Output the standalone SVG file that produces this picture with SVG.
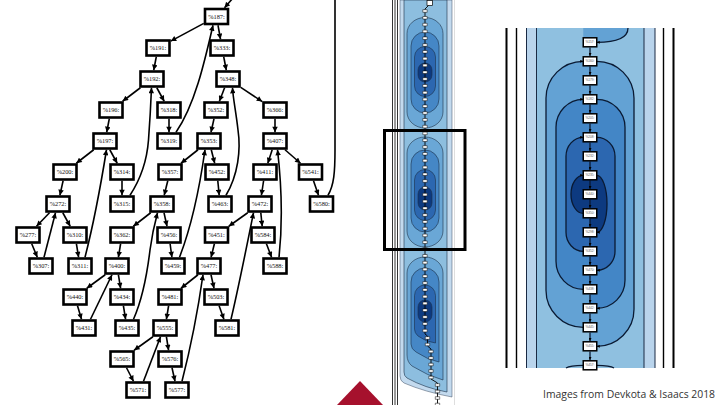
<svg xmlns="http://www.w3.org/2000/svg" width="720" height="405" viewBox="0 0 720 405">
<defs>
<style>
.n rect{fill:#fff;stroke:#000;stroke-width:2.6}
.n text{font-family:"Liberation Serif",serif;font-size:6.4px;text-anchor:middle;fill:#111}
.e path,.e line{stroke:#000;stroke-width:1.6;fill:none;marker-end:url(#ah)}
.rn rect{fill:#fff;stroke:#000;stroke-width:1.5}
.rn text{font-family:"Liberation Sans",sans-serif;font-size:3.2px;text-anchor:middle;fill:#555}
.re path,.re line{stroke:#0a1a33;stroke-width:1.3;fill:none;marker-end:url(#as)}
.ct{stroke:#1c3048;stroke-width:0.6}
</style>
<marker id="ah" viewBox="0 0 10 10" refX="10" refY="5" markerWidth="6.5" markerHeight="5.5" markerUnits="userSpaceOnUse" orient="auto"><path d="M0,0 L10,5 L0,10 z" fill="#000"/></marker>
<marker id="as" viewBox="0 0 10 10" refX="10" refY="5" markerWidth="3.5" markerHeight="3" markerUnits="userSpaceOnUse" orient="auto"><path d="M0,0 L10,5 L0,10 z" fill="#000"/></marker>
</defs>
<rect width="720" height="405" fill="#fff"/>

<!-- LEFT GRAPH: connectors -->
<g id="edges" class="e">
<line x1="203.75" y1="23.4" x2="170.75" y2="41.1"/>
<line x1="218" y1="25.25" x2="220.5" y2="39.25"/>
<line x1="156.3" y1="56.75" x2="153.7" y2="70.25"/>
<line x1="223.7" y1="56.75" x2="226.3" y2="70.25"/>
<line x1="140.4" y1="87.75" x2="122.6" y2="101.25"/>
<line x1="156.8" y1="87.75" x2="164.2" y2="101.25"/>
<line x1="224.6" y1="87.75" x2="219.4" y2="101.25"/>
<line x1="240.75" y1="87.4" x2="262.25" y2="101.6"/>
<line x1="109.3" y1="118.75" x2="106.7" y2="132.25"/>
<line x1="169" y1="118.75" x2="169" y2="132.25"/>
<line x1="214" y1="118.75" x2="211" y2="132.25"/>
<line x1="275" y1="118.75" x2="275" y2="132.25"/>
<line x1="93.7" y1="149.75" x2="76.3" y2="163.25"/>
<line x1="109.8" y1="149.75" x2="117.2" y2="163.25"/>
<line x1="198" y1="149.75" x2="181" y2="163.25"/>
<line x1="211.3" y1="149.75" x2="214.7" y2="163.25"/>
<line x1="272.2" y1="149.75" x2="267.8" y2="163.25"/>
<line x1="285" y1="149.75" x2="300.5" y2="163.25"/>
<line x1="63.1" y1="180.75" x2="59.9" y2="195.25"/>
<line x1="122" y1="180.75" x2="122" y2="195.25"/>
<line x1="167.8" y1="180.75" x2="164.2" y2="195.25"/>
<line x1="217.8" y1="180.75" x2="219.2" y2="195.25"/>
<line x1="263.6" y1="180.75" x2="261.4" y2="195.25"/>
<line x1="313.5" y1="180.75" x2="318.5" y2="195.25"/>
<line x1="49.5" y1="212.75" x2="36.5" y2="226.25"/>
<line x1="62.8" y1="212.75" x2="70.2" y2="226.25"/>
<line x1="31.7" y1="243.75" x2="37.3" y2="257.25"/>
<line x1="76.4" y1="243.75" x2="78.6" y2="257.25"/>
<line x1="150.7" y1="212.75" x2="133.3" y2="226.25"/>
<line x1="164" y1="212.75" x2="167" y2="226.25"/>
<line x1="120.6" y1="243.75" x2="118.4" y2="257.25"/>
<line x1="170.1" y1="243.75" x2="171.9" y2="257.25"/>
<line x1="247.7" y1="212.75" x2="228.8" y2="226.25"/>
<line x1="260.8" y1="212.75" x2="262.2" y2="226.25"/>
<line x1="214.4" y1="243.75" x2="211.1" y2="257.25"/>
<line x1="266.4" y1="243.75" x2="271.6" y2="257.25"/>
<line x1="105.2" y1="274.75" x2="86.8" y2="288.25"/>
<line x1="118.4" y1="274.75" x2="120.6" y2="288.25"/>
<line x1="77.5" y1="305.75" x2="81.5" y2="319.25"/>
<line x1="123.4" y1="305.75" x2="125.6" y2="319.25"/>
<line x1="198" y1="274.75" x2="181" y2="288.25"/>
<line x1="211" y1="274.75" x2="214" y2="288.25"/>
<line x1="168.6" y1="305.75" x2="166.4" y2="319.25"/>
<line x1="219.1" y1="305.75" x2="223.9" y2="319.25"/>
<line x1="152.9" y1="336.75" x2="134.1" y2="350.25"/>
<line x1="166.4" y1="336.75" x2="168.6" y2="350.25"/>
<line x1="126.5" y1="367.75" x2="133.5" y2="381.25"/>
<line x1="172" y1="367.75" x2="175" y2="381.25"/>
<path d="M176,132.25 C195,105 205,60 213,25.25"/>
<path d="M130,195.25 C140,180 147,160 148.5,140 C150,120 151,100 151.5,87.75"/>
<path d="M226,195.25 C238,175 241,150 238,130 C236,112 233,98 232.5,87.75"/>
<path d="M85,257.25 C92,230 100,190 106.5,149.75"/>
<path d="M44,257.25 L55.5,212.75"/>
<path d="M179.5,257.25 C192,225 200,185 205,149.75"/>
<path d="M279,257.25 C283,220 281,180 277.5,149.75"/>
<path d="M328,195.25 C334,185 335,172 335,150 L335,-2" style="marker-end:none"/>
<path d="M233,-2 L224.5,7.75"/>
<path d="M90.5,319.25 L112,274.75"/>
<path d="M133.5,319.25 C142,300 147,275 150,250 C152,235 155,222 157.5,212.75"/>
<path d="M231,319.25 C238,290 246,250 253.5,212.75"/>
<path d="M143.5,381.25 L160.5,336.75"/>
<path d="M182,381.25 C190,350 198,310 203,274.75"/>
</g>

<!-- LEFT GRAPH: nodes -->
<g id="n187" class="n"><rect x="205" y="9" width="23" height="15"/><text x="216.5" y="18.7">%187:</text></g>
<g id="n191" class="n"><rect x="146.5" y="40.5" width="23" height="15"/><text x="158" y="50.2">%191:</text></g>
<g id="n333" class="n"><rect x="210.5" y="40.5" width="23" height="15"/><text x="222" y="50.2">%333:</text></g>
<g id="n192" class="n"><rect x="140.5" y="71.5" width="23" height="15"/><text x="152" y="81.2">%192:</text></g>
<g id="n348" class="n"><rect x="216.5" y="71.5" width="23" height="15"/><text x="228" y="81.2">%348:</text></g>
<g id="n196" class="n"><rect x="99.5" y="102.5" width="23" height="15"/><text x="111" y="112.2">%196:</text></g>
<g id="n318" class="n"><rect x="157.5" y="102.5" width="23" height="15"/><text x="169" y="112.2">%318:</text></g>
<g id="n352" class="n"><rect x="204.5" y="102.5" width="23" height="15"/><text x="216" y="112.2">%352:</text></g>
<g id="n366" class="n"><rect x="263.5" y="102.5" width="23" height="15"/><text x="275" y="112.2">%366:</text></g>
<g id="n197" class="n"><rect x="93.5" y="133.5" width="23" height="15"/><text x="105" y="143.2">%197:</text></g>
<g id="n319" class="n"><rect x="157.5" y="133.5" width="23" height="15"/><text x="169" y="143.2">%319:</text></g>
<g id="n353" class="n"><rect x="197.5" y="133.5" width="23" height="15"/><text x="209" y="143.2">%353:</text></g>
<g id="n407" class="n"><rect x="263.5" y="133.5" width="23" height="15"/><text x="275" y="143.2">%407:</text></g>
<g id="n200" class="n"><rect x="53.5" y="164.5" width="23" height="15"/><text x="65" y="174.2">%200:</text></g>
<g id="n314" class="n"><rect x="110.5" y="164.5" width="23" height="15"/><text x="122" y="174.2">%314:</text></g>
<g id="n357" class="n"><rect x="158.5" y="164.5" width="23" height="15"/><text x="170" y="174.2">%357:</text></g>
<g id="n452" class="n"><rect x="205.5" y="164.5" width="23" height="15"/><text x="217" y="174.2">%452:</text></g>
<g id="n411" class="n"><rect x="253.5" y="164.5" width="23" height="15"/><text x="265" y="174.2">%411:</text></g>
<g id="n541" class="n"><rect x="299" y="164.5" width="23" height="15"/><text x="310.5" y="174.2">%541:</text></g>
<g id="n272" class="n"><rect x="46.5" y="196.5" width="23" height="15"/><text x="58" y="206.2">%272:</text></g>
<g id="n315" class="n"><rect x="110.5" y="196.5" width="23" height="15"/><text x="122" y="206.2">%315:</text></g>
<g id="n358" class="n"><rect x="150.5" y="196.5" width="23" height="15"/><text x="162" y="206.2">%358:</text></g>
<g id="n463" class="n"><rect x="208.5" y="196.5" width="23" height="15"/><text x="220" y="206.2">%463:</text></g>
<g id="n472" class="n"><rect x="248.5" y="196.5" width="23" height="15"/><text x="260" y="206.2">%472:</text></g>
<g id="n580" class="n"><rect x="310" y="196.5" width="23" height="15"/><text x="321.5" y="206.2">%580:</text></g>
<g id="n277" class="n"><rect x="16.5" y="227.5" width="23" height="15"/><text x="28" y="237.2">%277:</text></g>
<g id="n310" class="n"><rect x="63.5" y="227.5" width="23" height="15"/><text x="75" y="237.2">%310:</text></g>
<g id="n362" class="n"><rect x="110.5" y="227.5" width="23" height="15"/><text x="122" y="237.2">%362:</text></g>
<g id="n456" class="n"><rect x="157.5" y="227.5" width="23" height="15"/><text x="169" y="237.2">%456:</text></g>
<g id="n451" class="n"><rect x="205" y="227.5" width="23" height="15"/><text x="216.5" y="237.2">%451:</text></g>
<g id="n584" class="n"><rect x="251.5" y="227.5" width="23" height="15"/><text x="263" y="237.2">%584:</text></g>
<g id="n307" class="n"><rect x="29.5" y="258.5" width="23" height="15"/><text x="41" y="268.2">%307:</text></g>
<g id="n311" class="n"><rect x="68.5" y="258.5" width="23" height="15"/><text x="80" y="268.2">%311:</text></g>
<g id="n400" class="n"><rect x="105.5" y="258.5" width="23" height="15"/><text x="117" y="268.2">%400:</text></g>
<g id="n459" class="n"><rect x="161.5" y="258.5" width="23" height="15"/><text x="173" y="268.2">%459:</text></g>
<g id="n477" class="n"><rect x="197.5" y="258.5" width="23" height="15"/><text x="209" y="268.2">%477:</text></g>
<g id="n588" class="n"><rect x="263.5" y="258.5" width="23" height="15"/><text x="275" y="268.2">%588:</text></g>
<g id="n440" class="n"><rect x="63.5" y="289.5" width="23" height="15"/><text x="75" y="299.2">%440:</text></g>
<g id="n434" class="n"><rect x="110.5" y="289.5" width="23" height="15"/><text x="122" y="299.2">%434:</text></g>
<g id="n481" class="n"><rect x="158.5" y="289.5" width="23" height="15"/><text x="170" y="299.2">%481:</text></g>
<g id="n503" class="n"><rect x="204.5" y="289.5" width="23" height="15"/><text x="216" y="299.2">%503:</text></g>
<g id="n431" class="n"><rect x="72.5" y="320.5" width="23" height="15"/><text x="84" y="330.2">%431:</text></g>
<g id="n435" class="n"><rect x="115.5" y="320.5" width="23" height="15"/><text x="127" y="330.2">%435:</text></g>
<g id="n555" class="n"><rect x="153.5" y="320.5" width="23" height="15"/><text x="165" y="330.2">%555:</text></g>
<g id="n581" class="n"><rect x="215.5" y="320.5" width="23" height="15"/><text x="227" y="330.2">%581:</text></g>
<g id="n565" class="n"><rect x="110.5" y="351.5" width="23" height="15"/><text x="122" y="361.2">%565:</text></g>
<g id="n576" class="n"><rect x="158.5" y="351.5" width="23" height="15"/><text x="170" y="361.2">%576:</text></g>
<g id="n571" class="n"><rect x="126.5" y="382.5" width="23" height="15"/><text x="138" y="392.2">%571:</text></g>
<g id="n577" class="n"><rect x="165.5" y="382.5" width="23" height="15"/><text x="177" y="392.2">%577:</text></g>

<!-- MIDDLE STRIP -->
<g id="strip">
<g stroke="#000" stroke-width="0.8"><line x1="392.5" y1="0" x2="392.5" y2="405"/><line x1="395" y1="0" x2="395" y2="405"/><line x1="397.5" y1="0" x2="397.5" y2="405"/></g>
<line x1="454.5" y1="0" x2="454.5" y2="405" stroke="#c8c8c8" stroke-width="0.6"/>
<path d="M400,0 H452 V397 Q425,392 404,383 Q400,381 400,376 Z" fill="#c3daee" stroke="#3a4a60" stroke-width="0.5"/>
<path d="M404,0 H447 V392 Q425,388 407,378 Q404,376 404,372 Z" fill="#8dbedf" class="ct"/>
<rect x="407" y="17.5" width="36" height="110.5" rx="18" ry="16" fill="#6aa7d6" class="ct"/>
<rect x="411" y="32" width="28" height="81" rx="14" fill="#4587c6" class="ct"/>
<rect x="414.5" y="46.5" width="21" height="50" rx="10.5" fill="#2c67b0" class="ct"/>
<rect x="418" y="63" width="14" height="19" rx="7" fill="#0d3a80" class="ct"/>
<rect x="407" y="137" width="36" height="110" rx="18" ry="16" fill="#6aa7d6" class="ct"/>
<rect x="411" y="150" width="28" height="82" rx="14" fill="#4587c6" class="ct"/>
<rect x="414.5" y="169.5" width="21" height="51" rx="10.5" fill="#2c67b0" class="ct"/>
<rect x="418" y="187" width="14" height="23" rx="7" fill="#0d3a80" class="ct"/>
<path d="M407,273 A18,16 0 0 1 443,273 V380 Q428,376 412,366 Q407,362 407,355 Z" fill="#6aa7d6" class="ct"/>
<path d="M411,282 A14,14 0 0 1 439,282 V362 Q428,360 416,352 Q411,349 411,344 Z" fill="#4587c6" class="ct"/>
<path d="M414.5,295.5 A10.5,10.5 0 0 1 435.5,295.5 V343 Q426,342 418,336 Q414.5,333 414.5,329 Z" fill="#2c67b0" class="ct"/>
<rect x="418" y="300" width="14" height="22" rx="7" fill="#0d3a80" class="ct"/>
<path d="M429,5 L425,9 V334 L427.5,336 V346 L431,349 V379 L437.5,383 V405" fill="none" stroke="#000" stroke-width="0.9"/>
<rect x="427" y="0.5" width="5.5" height="5" fill="#fff" stroke="#000" stroke-width="0.7"/>
<path fill="#fff" stroke="#000" stroke-width="0.5" d="M422.8,9.7h4.4v2.6h-4.4z M422.8,16.5h4.4v2.6h-4.4z M422.8,23.3h4.4v2.6h-4.4z M422.8,30.1h4.4v2.6h-4.4z M422.8,36.9h4.4v2.6h-4.4z M422.8,43.7h4.4v2.6h-4.4z M422.8,50.5h4.4v2.6h-4.4z M422.8,57.3h4.4v2.6h-4.4z M422.8,64.1h4.4v2.6h-4.4z M422.8,70.9h4.4v2.6h-4.4z M422.8,77.7h4.4v2.6h-4.4z M422.8,84.5h4.4v2.6h-4.4z M422.8,91.3h4.4v2.6h-4.4z M422.8,98.1h4.4v2.6h-4.4z M422.8,104.9h4.4v2.6h-4.4z M422.8,111.7h4.4v2.6h-4.4z M422.8,118.5h4.4v2.6h-4.4z M422.8,125.3h4.4v2.6h-4.4z M422.8,132.1h4.4v2.6h-4.4z M422.8,138.9h4.4v2.6h-4.4z M422.8,145.7h4.4v2.6h-4.4z M422.8,152.5h4.4v2.6h-4.4z M422.8,159.3h4.4v2.6h-4.4z M422.8,166.1h4.4v2.6h-4.4z M422.8,172.9h4.4v2.6h-4.4z M422.8,179.7h4.4v2.6h-4.4z M422.8,186.5h4.4v2.6h-4.4z M422.8,193.3h4.4v2.6h-4.4z M422.8,200.1h4.4v2.6h-4.4z M422.8,206.9h4.4v2.6h-4.4z M422.8,213.7h4.4v2.6h-4.4z M422.8,220.5h4.4v2.6h-4.4z M422.8,227.3h4.4v2.6h-4.4z M422.8,234.1h4.4v2.6h-4.4z M422.8,240.9h4.4v2.6h-4.4z M422.8,247.7h4.4v2.6h-4.4z M422.8,254.5h4.4v2.6h-4.4z M422.8,261.3h4.4v2.6h-4.4z M422.8,268.1h4.4v2.6h-4.4z M422.8,274.9h4.4v2.6h-4.4z M422.8,281.7h4.4v2.6h-4.4z M422.8,288.5h4.4v2.6h-4.4z M422.8,295.3h4.4v2.6h-4.4z M422.8,302.1h4.4v2.6h-4.4z M422.8,308.9h4.4v2.6h-4.4z M422.8,315.7h4.4v2.6h-4.4z M422.8,322.5h4.4v2.6h-4.4z M422.8,329.3h4.4v2.6h-4.4z M425.3,336.7h4.4v2.6h-4.4z M425.3,343.2h4.4v2.6h-4.4z M428.8,350.2h4.4v2.6h-4.4z M428.8,356.7h4.4v2.6h-4.4z M428.8,363.2h4.4v2.6h-4.4z M428.8,369.7h4.4v2.6h-4.4z M428.8,376.2h4.4v2.6h-4.4z M435.3,383.7h4.4v2.6h-4.4z M435.3,390.2h4.4v2.6h-4.4z M435.3,396.7h4.4v2.6h-4.4z M435.3,403.2h4.4v2.6h-4.4z"/>
<rect x="384.5" y="130.5" width="80.5" height="119" fill="none" stroke="#000" stroke-width="3"/>
</g>
<polygon id="tri" points="337,405 360,381 383,405" fill="#a6112d"/>

<!-- RIGHT PANEL -->
<g id="panel">
<rect x="526.5" y="28" width="128.5" height="340" fill="#b9d4ec"/>
<rect x="536.5" y="28" width="107.5" height="340" fill="#8fc0e0"/>
<g stroke="#000"><line x1="506.5" y1="28" x2="506.5" y2="368" stroke-width="2"/><line x1="516.5" y1="28" x2="516.5" y2="368" stroke-width="1.4"/><line x1="663.5" y1="28" x2="663.5" y2="368" stroke-width="1.4"/><line x1="673.5" y1="28" x2="673.5" y2="368" stroke-width="2"/></g>
<g stroke="#1a2a44" stroke-width="1"><line x1="526.5" y1="28" x2="526.5" y2="368"/><line x1="536.5" y1="28" x2="536.5" y2="368"/><line x1="644" y1="28" x2="644" y2="368"/><line x1="655" y1="28" x2="655" y2="368"/></g>
<path d="M583.25,28 H628 C628,37 618,42.3 596.75,42.3 H583.25 Z" fill="#63a2d4"/>
<path d="M583.25,61.3 A37.25,37 0 0 0 546,98.3 V290.3 A37.25,37 0 0 0 583.25,327.3 H590 V346.3 H596.75 A37.25,37 0 0 0 634,309.3 V98.3 A37.25,37 0 0 0 596.75,61.3 Z" fill="#63a2d4"/>
<path d="M583.25,99.3 A27.25,28 0 0 0 556,127.3 V261.3 A27.25,28 0 0 0 583.25,289.3 H590 V308.3 H596.75 A28.25,28 0 0 0 625,280.3 V127.3 A28.25,28 0 0 0 596.75,99.3 Z" fill="#4386c6"/>
<path d="M583.25,137.3 A17.25,19 0 0 0 566,156.3 V232.3 A17.25,19 0 0 0 583.25,251.3 H590 V270.3 H596.75 A18.25,19 0 0 0 615,251.3 V156.3 A18.25,19 0 0 0 596.75,137.3 Z" fill="#2c67b0"/>
<path d="M583.25,175.3 A12.25,19 0 0 0 571,194.3 A12.25,19 0 0 0 583.25,213.3 H590 V232.3 H596.75 A10.25,28.5 0 0 0 607,203.8 A10.25,28.5 0 0 0 596.75,175.3 Z" fill="#0d3a80"/>
</g>
<g id="panel-edges" class="re">
<path d="M628,28 C628,37 618,42.3 596.75,42.3"/>
<path d="M583.25,327.3 A37.25,37 0 0 1 546,290.3 V98.3 A37.25,37 0 0 1 583.25,61.3"/>
<path d="M596.75,61.3 A37.25,37 0 0 1 634,98.3 V309.3 A37.25,37 0 0 1 596.75,346.3"/>
<path d="M583.25,289.3 A27.25,28 0 0 1 556,261.3 V127.3 A27.25,28 0 0 1 583.25,99.3"/>
<path d="M596.75,99.3 A28.25,28 0 0 1 625,127.3 V280.3 A28.25,28 0 0 1 596.75,308.3"/>
<path d="M583.25,251.3 A17.25,19 0 0 1 566,232.3 V156.3 A17.25,19 0 0 1 583.25,137.3"/>
<path d="M596.75,137.3 A18.25,19 0 0 1 615,156.3 V251.3 A18.25,19 0 0 1 596.75,270.3"/>
<path d="M583.25,213.3 A12.25,19 0 0 1 571,194.3 A12.25,19 0 0 1 583.25,175.3"/>
<path d="M596.75,175.3 A10.25,28.5 0 0 1 607,203.8 A10.25,28.5 0 0 1 596.75,232.3"/>
<path d="M583.25,365.3 Q570,365.3 566,368" style="marker-end:none"/>
<path d="M596.75,365.3 Q610,365.3 614,368" style="marker-end:none"/>
<line x1="590" y1="47.5" x2="590" y2="56"/><line x1="590" y1="66.5" x2="590" y2="75"/><line x1="590" y1="85.5" x2="590" y2="94"/><line x1="590" y1="104.5" x2="590" y2="113"/><line x1="590" y1="123.5" x2="590" y2="132"/><line x1="590" y1="142.5" x2="590" y2="151"/><line x1="590" y1="161.5" x2="590" y2="170"/><line x1="590" y1="180.5" x2="590" y2="189"/><line x1="590" y1="199.5" x2="590" y2="208"/><line x1="590" y1="218.5" x2="590" y2="227"/><line x1="590" y1="237.5" x2="590" y2="246"/><line x1="590" y1="256.5" x2="590" y2="265"/><line x1="590" y1="275.5" x2="590" y2="284"/><line x1="590" y1="294.5" x2="590" y2="303"/><line x1="590" y1="313.5" x2="590" y2="322"/><line x1="590" y1="332.5" x2="590" y2="341"/><line x1="590" y1="351.5" x2="590" y2="360"/>
</g>
<g id="r0" class="rn"><rect x="583.25" y="37.8" width="13.5" height="9"/><text x="590" y="43.4">%157:</text></g>
<g id="r1" class="rn"><rect x="583.25" y="56.8" width="13.5" height="9"/><text x="590" y="62.4">%160:</text></g>
<g id="r2" class="rn"><rect x="583.25" y="75.8" width="13.5" height="9"/><text x="590" y="81.4">%179:</text></g>
<g id="r3" class="rn"><rect x="583.25" y="94.8" width="13.5" height="9"/><text x="590" y="100.4">%182:</text></g>
<g id="r4" class="rn"><rect x="583.25" y="113.8" width="13.5" height="9"/><text x="590" y="119.4">%205:</text></g>
<g id="r5" class="rn"><rect x="583.25" y="132.8" width="13.5" height="9"/><text x="590" y="138.4">%208:</text></g>
<g id="r6" class="rn"><rect x="583.25" y="151.8" width="13.5" height="9"/><text x="590" y="157.4">%232:</text></g>
<g id="r7" class="rn"><rect x="583.25" y="170.8" width="13.5" height="9"/><text x="590" y="176.4">%235:</text></g>
<g id="r8" class="rn"><rect x="583.25" y="189.8" width="13.5" height="9"/><text x="590" y="195.4">%440:</text></g>
<g id="r9" class="rn"><rect x="583.25" y="208.8" width="13.5" height="9"/><text x="590" y="214.4">%350:</text></g>
<g id="r10" class="rn"><rect x="583.25" y="227.8" width="13.5" height="9"/><text x="590" y="233.4">%298:</text></g>
<g id="r11" class="rn"><rect x="583.25" y="246.8" width="13.5" height="9"/><text x="590" y="252.4">%352:</text></g>
<g id="r12" class="rn"><rect x="583.25" y="265.8" width="13.5" height="9"/><text x="590" y="271.4">%470:</text></g>
<g id="r13" class="rn"><rect x="583.25" y="284.8" width="13.5" height="9"/><text x="590" y="290.4">%438:</text></g>
<g id="r14" class="rn"><rect x="583.25" y="303.8" width="13.5" height="9"/><text x="590" y="309.4">%442:</text></g>
<g id="r15" class="rn"><rect x="583.25" y="322.8" width="13.5" height="9"/><text x="590" y="328.4">%445:</text></g>
<g id="r16" class="rn"><rect x="583.25" y="341.8" width="13.5" height="9"/><text x="590" y="347.4">%455:</text></g>
<g id="r17" class="rn"><rect x="583.25" y="360.8" width="13.5" height="9"/><text x="590" y="366.4">%457:</text></g>

<text id="caption" x="543" y="398" font-family="'Open Sans','Liberation Sans',sans-serif" font-size="10.5" fill="#333" textLength="172" lengthAdjust="spacingAndGlyphs">Images from Devkota &amp; Isaacs 2018</text>
</svg>
